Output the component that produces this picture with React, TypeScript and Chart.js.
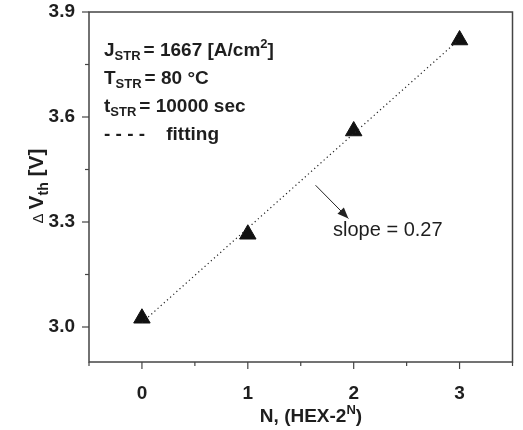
import React, { useEffect, useRef } from "react";
import { Chart, registerables } from "chart.js";
Chart.register(...registerables);

const nValues = [0, 1, 2, 3];
const deltaVth = [3.025, 3.265, 3.56, 3.82];
const fitX = [0, 3];
const fitY = [3.0125, 3.8225];
const xTickValues = [-0.5, 0, 0.5, 1, 1.5, 2, 2.5, 3, 3.5];
const xTickLabels = ["", "0", "", "1", "", "2", "", "3", ""];
const yTickValues = [3.0, 3.15, 3.3, 3.45, 3.6, 3.75, 3.9];
const yTickLabels = ["3.0", "", "3.3", "", "3.6", "", "3.9"];
const slopeText = "slope = 0.27";

const FONT = "'Liberation Sans', Arial, sans-serif";
const INK = "#1e1e1e";
const AXIS = "#444";

type Seg = { t: string; size: number; bold?: boolean; dy?: number; gap?: number };

function drawSegs(ctx: CanvasRenderingContext2D, segs: Seg[], x: number, y: number, align: "left" | "center" = "left") {
  ctx.save();
  ctx.textBaseline = "alphabetic";
  ctx.textAlign = "left";
  let total = 0;
  const widths = segs.map((s) => {
    ctx.font = `${s.bold === false ? "" : "bold "}${s.size}px ${FONT}`;
    const w = ctx.measureText(s.t).width + (s.gap || 0);
    total += w;
    return w;
  });
  let cx = align === "center" ? x - total / 2 : x;
  segs.forEach((s, i) => {
    ctx.font = `${s.bold === false ? "" : "bold "}${s.size}px ${FONT}`;
    ctx.fillText(s.t, cx, y + (s.dy || 0));
    cx += widths[i];
  });
  ctx.restore();
}

const decorPlugin = {
  id: "decor",
  afterDraw(chart: any) {
    const ctx: CanvasRenderingContext2D = chart.ctx;
    const { left, right, top, bottom } = chart.chartArea;
    const xs = chart.scales.x;
    const ys = chart.scales.y;
    ctx.save();
    // frame
    ctx.strokeStyle = AXIS;
    ctx.lineWidth = 1.5;
    ctx.strokeRect(left, top, right - left, bottom - top);
    // tick marks
    ctx.lineWidth = 1.2;
    xTickValues.forEach((v, i) => {
      const px = xs.getPixelForValue(v);
      const len = xTickLabels[i] ? 7 : 4;
      ctx.beginPath();
      ctx.moveTo(px, bottom);
      ctx.lineTo(px, bottom + len);
      ctx.stroke();
    });
    yTickValues.forEach((v, i) => {
      const py = ys.getPixelForValue(v);
      const len = yTickLabels[i] ? 7 : 4;
      ctx.beginPath();
      ctx.moveTo(left, py);
      ctx.lineTo(left - len, py);
      ctx.stroke();
    });
    ctx.fillStyle = INK;
    // legend block
    const lx = left + 15;
    drawSegs(ctx, [
      { t: "J", size: 19 },
      { t: "STR", size: 13, dy: 4, gap: 3 },
      { t: "= 1667 [A/cm", size: 19 },
      { t: "2", size: 13, dy: -8 },
      { t: "]", size: 19 },
    ], lx, top + 44);
    drawSegs(ctx, [
      { t: "T", size: 19 },
      { t: "STR", size: 13, dy: 4, gap: 3 },
      { t: "= 80 \u00B0C", size: 19 },
    ], lx, top + 72);
    drawSegs(ctx, [
      { t: "t", size: 19 },
      { t: "STR", size: 13, dy: 4, gap: 3 },
      { t: "= 10000 sec", size: 19 },
    ], lx, top + 100);
    drawSegs(ctx, [{ t: "- - - -    fitting", size: 19 }], lx, top + 128);
    // arrow
    const ax0 = xs.getPixelForValue(1.64);
    const ay0 = ys.getPixelForValue(3.405);
    const ax1 = xs.getPixelForValue(1.95);
    const ay1 = ys.getPixelForValue(3.31);
    ctx.strokeStyle = "#222";
    ctx.lineWidth = 1;
    ctx.beginPath();
    ctx.moveTo(ax0, ay0);
    ctx.lineTo(ax1, ay1);
    ctx.stroke();
    const ang = Math.atan2(ay1 - ay0, ax1 - ax0);
    const hl = 11, hw = 4.5;
    ctx.beginPath();
    ctx.moveTo(ax1, ay1);
    ctx.lineTo(ax1 - hl * Math.cos(ang) + hw * Math.sin(ang), ay1 - hl * Math.sin(ang) - hw * Math.cos(ang));
    ctx.lineTo(ax1 - hl * Math.cos(ang) - hw * Math.sin(ang), ay1 - hl * Math.sin(ang) + hw * Math.cos(ang));
    ctx.closePath();
    ctx.fillStyle = "#222";
    ctx.fill();
    ctx.fillStyle = INK;
    ctx.font = `20px ${FONT}`;
    ctx.textAlign = "left";
    ctx.textBaseline = "alphabetic";
    ctx.fillText(slopeText, xs.getPixelForValue(1.805), ys.getPixelForValue(3.26));
    // x title
    drawSegs(ctx, [
      { t: "N, (HEX-2", size: 19 },
      { t: "N", size: 13, dy: -8 },
      { t: ")", size: 19 },
    ], 311, 422, "center");
    // y title
    ctx.save();
    ctx.translate(43, 186);
    ctx.rotate(-Math.PI / 2);
    drawSegs(ctx, [
      { t: "\u0394 ", size: 15, bold: false },
      { t: "V", size: 21 },
      { t: "th", size: 14, dy: 5 },
      { t: " [V]", size: 21 },
    ], 0, 0, "center");
    ctx.restore();
    ctx.restore();
  },
};

export default function App() {
  const ref = useRef<HTMLCanvasElement | null>(null);
  useEffect(() => {
    document.body.style.margin = "0";
    const canvas = ref.current!;
    const chart = new Chart(canvas, {
      type: "scatter",
      data: {
        datasets: [
          {
            label: "fitting",
            data: fitX.map((x, i) => ({ x, y: fitY[i] })),
            showLine: true,
            borderColor: "#222",
            borderWidth: 1.2,
            borderDash: [1.2, 3],
            pointRadius: 0,
          },
          {
            label: "data",
            data: nValues.map((x, i) => ({ x, y: deltaVth[i] })),
            pointStyle: "triangle",
            pointRadius: 9.5,
            backgroundColor: "#111",
            borderColor: "#111",
            borderWidth: 1,
          },
        ],
      },
      options: {
        animation: false,
        responsive: false,
        maintainAspectRatio: false,
        layout: { padding: { top: 12, right: 6, left: 0, bottom: 0 } },
        plugins: { legend: { display: false }, tooltip: { enabled: false } },
        scales: {
          x: {
            type: "linear",
            min: -0.5,
            max: 3.5,
            grid: { display: false },
            border: { display: false },
            afterBuildTicks: (s: any) => {
              s.ticks = xTickValues.map((v) => ({ value: v }));
            },
            afterFit: (s: any) => {
              s.height = 68;
              s.paddingLeft = 0;
              s.paddingRight = 0;
            },
            ticks: {
              autoSkip: false,
              maxRotation: 0,
              padding: 12,
              color: INK,
              font: { family: FONT, size: 19, weight: "bold" },
              callback: (_v: any, i: number) => xTickLabels[i],
            },
          },
          y: {
            type: "linear",
            min: 2.9,
            max: 3.9,
            grid: { display: false },
            border: { display: false },
            afterBuildTicks: (s: any) => {
              s.ticks = yTickValues.map((v) => ({ value: v }));
            },
            afterFit: (s: any) => {
              s.width = 89;
              s.paddingTop = 0;
              s.paddingBottom = 0;
            },
            ticks: {
              autoSkip: false,
              padding: 6,
              color: INK,
              font: { family: FONT, size: 19, weight: "bold" },
              callback: (_v: any, i: number) => yTickLabels[i],
            },
          },
        },
      } as any,
      plugins: [decorPlugin],
    });
    return () => chart.destroy();
  }, []);
  return (
    <div style={{ width: 523, height: 430, background: "#fff" }}>
      <canvas ref={ref} width={523} height={430} style={{ display: "block" }} />
    </div>
  );
}
